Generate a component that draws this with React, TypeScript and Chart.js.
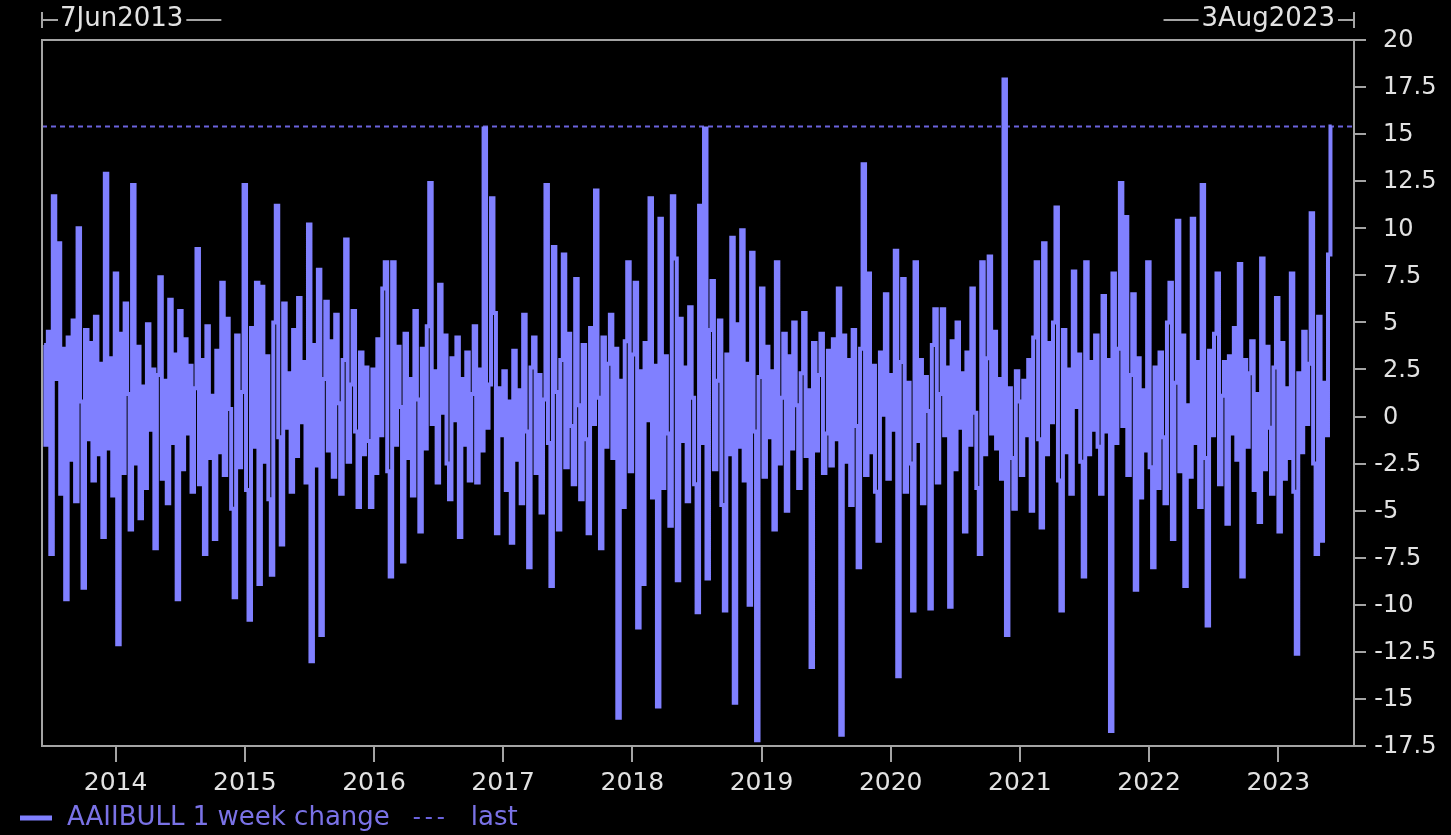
import React, { useEffect, useRef } from 'react';
import { Chart, registerables } from 'chart.js';

Chart.register(...registerables);

// ---------- data ----------
const firstObservation = { year: 2013, month: 6, day: 13 }; // weekly, Thursdays
const rangeStart = { year: 2013, month: 6, day: 7 };
const rangeEnd = { year: 2023, month: 8, day: 3 };
const rangeStartLabel = '7Jun2013';
const rangeEndLabel = '3Aug2023';
const yearTicks = [2014, 2015, 2016, 2017, 2018, 2019, 2020, 2021, 2022, 2023];
const yMin = -17.5;
const yMax = 20;
const yStep = 2.5;
const seriesName = 'AAIIBULL 1 week change';
const lastName = 'last';

const weeklyChange = [
  3.8, -1.5, 4.5, -7.3, 11.7, 2.0, 9.2, -4.1, 3.6, -9.7,
  4.2, -2.3, 5.1, -4.5, 10.0, 0.8, -9.1, 4.6, -1.2, 3.9,
  -3.4, 5.3, -2.0, 2.8, -6.4, 12.9, -1.7, 3.1, -4.2, 7.6,
  -12.1, 4.4, -3.0, 6.0, 1.2, -6.0, 12.3, -2.5, 3.7, -5.4,
  1.6, -3.8, 4.9, -0.7, 2.5, -7.0, 2.2, 7.4, -3.3, 1.9,
  -4.6, 6.2, -1.4, 3.3, -9.7, 5.6, -2.8, 4.1, -0.9, 2.7,
  -4.0, 1.5, 8.9, -3.6, 3.0, -7.3, 4.8, -2.2, 1.1, -6.5,
  3.5, -1.9, 7.1, -3.1, 5.2, 0.4, -4.9, -9.6, 4.3, -2.7,
  1.3, 12.3, -3.9, -10.8, 4.7, -1.6, 7.1, -8.9, 6.9, -2.4,
  3.2, -4.4, -8.4, 5.0, 11.2, -1.1, -6.8, 6.0, -0.6, 2.3,
  -4.0, 4.6, -2.1, 6.3, -0.3, 2.9, -3.5, 10.2, -13.0, 3.8,
  -2.6, 7.8, -11.6, 2.0, 6.1, -1.8, 4.0, -3.2, 5.4, 0.7,
  -4.1, 3.0, 9.4, -2.4, 1.7, 5.6, -0.8, -4.8, 3.4, -2.0,
  2.6, -1.3, -4.8, 2.5, -3.0, 4.1, -1.0, 6.8, 8.2, -2.9,
  -8.5, 8.2, -1.5, 3.7, 0.5, -7.7, 4.4, -2.2, 2.0, -4.2,
  5.6, 0.9, -6.1, 3.6, -1.7, 4.8, 12.4, -0.4, 2.4, -3.5,
  7.0, 0.2, 4.3, -2.5, -4.4, 3.1, -0.2, 4.2, -6.4, 2.0,
  -1.5, 3.4, -3.4, 1.2, 4.8, -3.5, 2.5, -1.8, 15.3, -0.6,
  1.7, 11.6, 5.5, -6.2, 1.5, -1.0, 2.4, -3.9, 0.8, -6.7,
  3.5, -2.3, 1.4, -4.6, 5.4, -0.8, -8.0, 2.6, 4.2, -3.0,
  2.2, -5.1, 0.9, 12.3, -1.4, -9.0, 9.0, 1.3, -6.0, 3.0,
  8.6, -2.7, 4.4, -0.5, -3.6, 7.3, 0.6, -4.4, 3.8, -1.2,
  -6.2, 4.7, -0.4, 12.0, 1.0, -7.0, 4.2, -1.6, 2.8, 5.4,
  -2.2, 3.6, -16.0, 1.9, -4.8, 4.0, 8.2, -2.9, 3.3, 7.1,
  -11.2, 2.4, -8.9, 3.9, -0.2, 11.6, -4.3, 2.7, -15.4, 10.5,
  -3.8, 3.2, -0.9, -5.8, 11.7, 8.4, -8.7, 5.2, -1.3, 2.6,
  -4.5, 5.8, 1.0, -3.6, -10.4, 11.2, -1.4, 15.3, -8.6, 4.6,
  7.2, -2.8, 1.9, 5.1, -4.7, -10.3, 3.3, -2.0, 9.5, -15.2,
  4.9, -1.6, 9.9, -3.4, 2.8, -10.0, 8.7, -0.8, -17.2, 2.1,
  6.8, -3.2, 3.7, -1.1, 2.4, -6.0, 8.2, -2.5, 1.0, 4.4,
  -5.0, 3.2, -1.7, 5.0, 0.6, -3.8, 2.3, 5.5, -2.1, 1.4,
  -13.3, 3.9, -1.8, 2.2, 4.4, -3.0, -0.9, 3.5, -2.6, 4.1,
  -1.2, 6.8, -16.9, 4.3, -2.4, 3.0, -4.7, 4.6, -0.5, -8.0,
  3.6, 13.4, -3.1, 7.6, -1.9, 2.7, -4.0, -6.6, 3.4, 0.1,
  6.5, -3.3, 2.2, -0.7, 8.8, -13.8, 2.9, 7.3, -4.0, 1.8,
  -2.5, -10.3, 8.2, -1.3, 3.0, -4.6, 2.1, 0.3, -10.2, 3.8,
  5.7, -3.5, 1.2, 5.7, -1.0, 2.6, -10.1, 4.0, -2.8, 5.0,
  -0.6, 2.3, -6.1, 3.4, -1.5, 6.8, 0.2, -3.8, -7.3, 8.2,
  -2.0, 3.1, 8.5, -0.9, 4.5, -1.7, 2.0, -3.3, 17.9, -11.6,
  1.5, -2.2, -4.9, 2.4, 0.8, -3.1, 1.9, -1.0, 3.0, -5.0,
  4.2, 8.2, -1.2, -5.9, 9.2, -2.0, 3.9, -0.3, 5.0, 11.1,
  -3.4, -10.3, 4.6, -1.9, 2.5, -4.1, 7.7, 0.5, 3.3, -2.4,
  -8.5, 8.2, -2.0, 2.9, -0.7, 4.3, -1.6, -4.1, 6.4, -0.8,
  3.0, -16.7, 7.6, -1.4, 3.6, 12.4, -0.5, 10.6, -3.1, 2.2,
  6.5, -9.2, 3.1, -4.3, 1.4, -1.8, 8.2, -2.7, -8.0, 2.6,
  -3.8, 3.4, -1.1, -4.6, 5.0, 7.1, -6.5, 1.8, 10.4, -2.9,
  4.3, -9.0, 0.6, -3.2, 10.5, -1.4, 2.9, -4.8, 12.3, -2.2,
  -11.1, 3.5, -1.0, 4.4, 7.6, -3.6, 1.1, 2.9, -5.7, 3.2,
  -0.9, 4.7, -2.3, 8.1, -8.5, 3.0, -1.6, 2.3, 4.0, -3.9,
  1.2, -5.6, 8.4, -2.8, 3.7, -0.6, -4.1, 2.6, 6.3, -6.1,
  3.9, -3.3, 1.5, -2.2, 7.6, -4.0, -12.6, 2.3, -1.9, 4.5,
  -0.4, 2.8, 10.8, -2.5, -7.3, 5.3, -6.6, 1.8, -1.0, 8.6,
  15.4,
];

// ---------- styling ----------
const BG = '#000000';
const SERIES_COLOR = '#8080ff';
const LAST_COLOR = '#6a62dc';
const LEGEND_TEXT = '#7a72e6';
const AXIS_COLOR = '#a4a4a4';
const TEXT_COLOR = '#e2e2e2';
const FONT_FAMILY = '"DejaVu Sans", sans-serif';
const FONT_SIZE = 24;
const XTICK_FONT_SIZE = 25;
const HEADER_FONT_SIZE = 26;
const LEGEND_FONT_SIZE = 26;

function yearFraction(y: number, m: number, d: number): number {
  const t = Date.UTC(y, m - 1, d);
  const s = Date.UTC(y, 0, 1);
  const e = Date.UTC(y + 1, 0, 1);
  return y + (t - s) / (e - s);
}

function weekToYear(i: number): number {
  const dt = new Date(Date.UTC(firstObservation.year, firstObservation.month - 1, firstObservation.day + 7 * i));
  return yearFraction(dt.getUTCFullYear(), dt.getUTCMonth() + 1, dt.getUTCDate());
}

const decorPlugin = {
  id: 'decor',
  afterDraw(chart: any) {
    const { ctx, chartArea: a } = chart;
    const ys = chart.scales.y;
    ctx.save();

    // frame (left and top)
    ctx.strokeStyle = AXIS_COLOR;
    ctx.lineWidth = 2;
    ctx.beginPath();
    ctx.moveTo(a.left, a.bottom);
    ctx.lineTo(a.left, a.top);
    ctx.lineTo(a.right, a.top);
    ctx.stroke();

    // header range markers
    ctx.font = `${HEADER_FONT_SIZE}px ${FONT_FAMILY}`;
    const hy = a.top - 20;
    ctx.textBaseline = 'middle';
    ctx.fillStyle = TEXT_COLOR;
    // left
    ctx.beginPath();
    ctx.moveTo(a.left, hy - 8);
    ctx.lineTo(a.left, hy + 8);
    ctx.moveTo(a.left, hy);
    ctx.lineTo(a.left + 16, hy);
    ctx.stroke();
    ctx.textAlign = 'left';
    const lx = a.left + 18;
    ctx.fillText(rangeStartLabel, lx, hy - 1);
    const lw = ctx.measureText(rangeStartLabel).width;
    ctx.beginPath();
    ctx.moveTo(lx + lw + 3, hy);
    ctx.lineTo(lx + lw + 38, hy);
    ctx.stroke();
    // right
    ctx.beginPath();
    ctx.moveTo(a.right, hy - 8);
    ctx.lineTo(a.right, hy + 8);
    ctx.moveTo(a.right, hy);
    ctx.lineTo(a.right - 16, hy);
    ctx.stroke();
    ctx.textAlign = 'right';
    const rx = a.right - 19;
    ctx.fillText(rangeEndLabel, rx, hy - 1);
    const rw = ctx.measureText(rangeEndLabel).width;
    ctx.beginPath();
    ctx.moveTo(rx - rw - 3, hy);
    ctx.lineTo(rx - rw - 38, hy);
    ctx.stroke();

    // y tick labels (minus sign hangs left of the digits)
    ctx.font = `${FONT_SIZE}px ${FONT_FAMILY}`;
    ctx.fillStyle = TEXT_COLOR;
    const labelX = a.right + 29;
    ys.ticks.forEach((t: any) => {
      const py = ys.getPixelForValue(t.value);
      const txt = String(Math.abs(t.value));
      ctx.textAlign = 'left';
      ctx.fillText(txt, labelX, py + 1);
      if (t.value < 0) {
        ctx.textAlign = 'right';
        ctx.fillText('-', labelX, py + 1);
      }
    });

    // legend
    const ly = 818;
    ctx.font = `${LEGEND_FONT_SIZE}px ${FONT_FAMILY}`;
    ctx.strokeStyle = SERIES_COLOR;
    ctx.lineWidth = 5;
    ctx.beginPath();
    ctx.moveTo(20, ly);
    ctx.lineTo(52, ly);
    ctx.stroke();
    ctx.fillStyle = LEGEND_TEXT;
    ctx.textAlign = 'left';
    ctx.fillText(seriesName, 67, ly);
    const sw = ctx.measureText(seriesName).width;
    ctx.strokeStyle = LAST_COLOR;
    ctx.lineWidth = 2;
    ctx.setLineDash([6, 6]);
    ctx.beginPath();
    ctx.moveTo(67 + sw + 24, ly);
    ctx.lineTo(67 + sw + 60, ly);
    ctx.stroke();
    ctx.setLineDash([]);
    ctx.fillText(lastName, 67 + sw + 81, ly);

    ctx.restore();
  },
};

export default function App() {
  const canvasRef = useRef<HTMLCanvasElement | null>(null);

  useEffect(() => {
    document.body.style.margin = '0';
    document.body.style.background = BG;
    const canvas = canvasRef.current;
    if (!canvas) return;

    const xMin = yearFraction(rangeStart.year, rangeStart.month, rangeStart.day);
    const xMax = yearFraction(rangeEnd.year, rangeEnd.month, rangeEnd.day);
    const points = weeklyChange.map((v, i) => ({ x: weekToYear(i), y: v }));
    const lastValue = weeklyChange[weeklyChange.length - 1];

    const chart = new Chart(canvas, {
      type: 'line',
      data: {
        datasets: [
          {
            label: lastName,
            data: [
              { x: xMin, y: lastValue },
              { x: xMax, y: lastValue },
            ],
            borderColor: LAST_COLOR,
            borderWidth: 2,
            borderDash: [5, 4],
            pointRadius: 0,
            order: 2,
          },
          {
            label: seriesName,
            data: points,
            borderColor: SERIES_COLOR,
            borderWidth: 4,
            pointRadius: 0,
            stepped: 'middle',
            borderCapStyle: 'butt',
            borderJoinStyle: 'miter',
            order: 1,
          },
        ],
      },
      options: {
        animation: false,
        responsive: false,
        maintainAspectRatio: false,
        devicePixelRatio: 1,
        events: [],
        layout: { padding: { top: 40, left: 42, right: 0, bottom: 0 } },
        plugins: {
          legend: { display: false },
          tooltip: { enabled: false },
        },
        scales: {
          x: {
            type: 'linear',
            position: 'bottom',
            min: xMin,
            max: xMax,
            afterBuildTicks: (scale: any) => {
              scale.ticks = yearTicks.map((v) => ({ value: v }));
            },
            afterFit: (scale: any) => {
              scale.height = 89;
            },
            ticks: {
              color: TEXT_COLOR,
              font: { family: FONT_FAMILY, size: XTICK_FONT_SIZE },
              padding: 6,
              maxRotation: 0,
              autoSkip: false,
              callback: (v: any) => String(v),
            },
            grid: {
              drawOnChartArea: false,
              drawTicks: true,
              tickLength: 16,
              color: AXIS_COLOR,
              lineWidth: 2,
            },
            border: { display: true, color: AXIS_COLOR, width: 2 },
          },
          y: {
            type: 'linear',
            position: 'right',
            min: yMin,
            max: yMax,
            afterFit: (scale: any) => {
              scale.width = 97;
            },
            ticks: {
              stepSize: yStep,
              display: false,
            },
            grid: {
              drawOnChartArea: false,
              drawTicks: true,
              tickLength: 12,
              color: AXIS_COLOR,
              lineWidth: 2,
            },
            border: { display: true, color: AXIS_COLOR, width: 2 },
          },
        },
      },
      plugins: [decorPlugin],
    });

    return () => chart.destroy();
  }, []);

  return (
    <div style={{ width: 1451, height: 835, background: BG }}>
      <canvas ref={canvasRef} width={1451} height={835} style={{ display: 'block' }} />
    </div>
  );
}
